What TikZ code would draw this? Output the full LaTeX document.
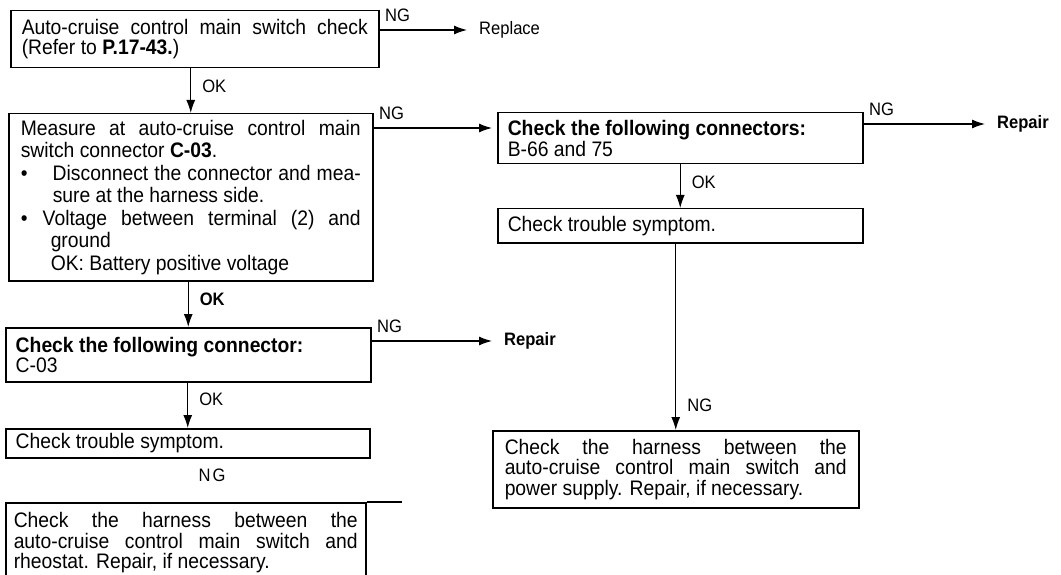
\documentclass[tikz,border=0pt]{standalone}
\usepackage{fontspec}
\setmainfont{Liberation Sans}[FakeStretch=0.92]
\usepackage{tikz}
\usetikzlibrary{arrows.meta,positioning,calc}
\setlength{\parindent}{0pt}
\newcommand{\boxfont}{\fontsize{21}{20.5}\selectfont}
\newcommand{\tagfont}{\fontsize{18}{18}\selectfont}
\tikzset{
  stepbox/.style={draw=black,line width=1.5pt,anchor=north west,inner xsep=10pt,inner ysep=0pt,align=justify,font=\boxfont},
  result/.style={anchor=west,inner sep=0pt,font=\tagfont},
  arrow/.style={-{Latex[length=13pt,width=9pt]},line width=1.2pt,draw=black},
  toresult/.style={arrow,shorten >=12pt},
  hlabel/.style={anchor=south west,inner sep=0pt,xshift=5pt,yshift=8pt,font=\tagfont},
  vlabel/.style={anchor=west,inner sep=0pt,xshift=11pt,font=\tagfont}
}

\begin{document}
\begin{tikzpicture}[x=1pt,y=-1pt]
  \useasboundingbox (0,0) rectangle (1061,575);
  \clip (0,0) rectangle (1061,575);
  \fill[white] (0,0) rectangle (1061,575);

  % left column
  \node[stepbox,inner xsep=11pt,text width=346,minimum height=57] (b1) at (10,10)
    {Auto-cruise control main switch check\linebreak (Refer to \textbf{P.17-43.})};
  \node[stepbox,inner xsep=12pt,text width=340,minimum height=167,font=\fontsize{21}{22.5}\selectfont] (b2) at (8,113)
    {Measure at auto-cruise control main\linebreak switch connector \textbf{C-03}.\par
     \hangindent=32pt\hangafter=1\makebox[32pt][l]{\textbullet}Disconnect the connector and mea-\linebreak sure at the harness side.\par
     \hangindent=30pt\hangafter=1\makebox[22pt][l]{\textbullet}Voltage between terminal (2) and\linebreak ground\\OK: Battery positive voltage\par};
  \node[stepbox,text width=345,minimum height=54] (b5) at (5,327)
    {\textbf{Check the following connector:}\\C-03};
  \node[stepbox,text width=344,minimum height=29] (b7) at (5,428)
    {Check trouble symptom.};
  \node[stepbox,inner xsep=8pt,text width=344,minimum height=80] (b8) at (5,502)
    {Check the harness between the\linebreak auto-cruise control main switch and\linebreak rheostat. Repair, if necessary.};
  \draw[line width=1.5pt] (b8.north east) -- ++(35,0);
  \node[font=\tagfont,inner sep=0pt] (ng7) at (212,475) {N\hspace{2pt}G};

  % right column
  \node[stepbox,text width=345,minimum height=51] (b3) at (497,112)
    {\textbf{Check the following connectors:}\\B-66 and 75};
  \node[stepbox,text width=345,minimum height=34] (b4) at (497,208)
    {Check trouble symptom.};
  \node[stepbox,inner xsep=12pt,text width=342,minimum height=77] (b6) at (492,430)
    {Check the harness between the\linebreak auto-cruise control main switch and\linebreak power supply. Repair, if necessary.};

  % results
  \node[result] (rep) at (479,30) {Replace};
  \node[result,font=\tagfont\bfseries] (rep2) at (997,124) {Repair};
  \node[result,font=\tagfont\bfseries] (rep3) at (504,341) {Repair};

  % connectors
  \draw[toresult] (b1.east |- rep.west) -- (rep.west) node[hlabel,pos=0]{NG};
  \draw[arrow] (b1.south -| b2.north) -- (b2.north) node[vlabel,pos=0.4]{OK};
  \coordinate (m2) at ([yshift=-15pt]b2.north east);
  \draw[arrow,shorten >=5pt] (m2) -- (m2 -| b3.west) node[hlabel,pos=0]{NG};
  \draw[toresult] (b3.east |- rep2.west) -- (rep2.west) node[hlabel,pos=0]{NG};
  \draw[arrow] (b3.south -| b4.north) -- (b4.north) node[vlabel,pos=0.42]{OK};
  \draw[arrow] (b4.south -| b6.north) -- (b6.north) node[vlabel,pos=0.87]{NG};
  \draw[arrow] (b2.south -| b5.north) -- (b5.north) node[vlabel,pos=0.4,font=\tagfont\bfseries]{OK};
  \draw[toresult] (b5.east |- rep3.west) -- (rep3.west) node[hlabel,pos=0]{NG};
  \draw[arrow] (b5.south -| b7.north) -- (b7.north) node[vlabel,pos=0.37]{OK};
\end{tikzpicture}
\end{document}
